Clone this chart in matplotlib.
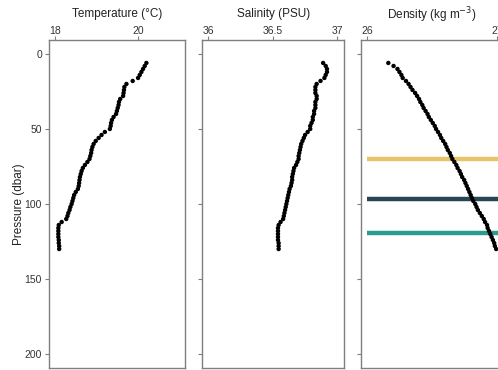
import matplotlib
matplotlib.use("Agg")
import matplotlib.pyplot as plt

plt.rcParams['font.family'] = ['Liberation Sans', 'DejaVu Sans']

pressure = [6, 8, 10, 12, 14, 16, 18, 20, 22, 24, 26, 28, 30, 32, 34, 36, 38, 40,
            42, 44, 46, 48, 50, 52, 54, 56, 58, 60, 62, 64, 66, 68, 70, 72, 74, 76,
            78, 80, 82, 84, 86, 88, 90, 92, 94, 96, 98, 100, 102, 104, 106, 108, 110,
            112, 114, 116, 118, 120, 122, 124, 126, 128, 130]

temperature = [20.20, 20.16, 20.12, 20.08, 20.04, 20.00, 19.87, 19.72, 19.67, 19.66,
               19.65, 19.64, 19.57, 19.54, 19.53, 19.51, 19.49, 19.47, 19.41, 19.37,
               19.35, 19.34, 19.32, 19.20, 19.12, 19.05, 18.98, 18.93, 18.90, 18.88,
               18.87, 18.85, 18.83, 18.78, 18.72, 18.67, 18.64, 18.62, 18.60, 18.59,
               18.58, 18.57, 18.55, 18.50, 18.46, 18.44, 18.42, 18.40, 18.37, 18.35,
               18.32, 18.30, 18.27, 18.16, 18.09, 18.08, 18.08, 18.08, 18.08, 18.09,
               18.09, 18.10, 18.10]

salinity = [36.89, 36.91, 36.92, 36.92, 36.91, 36.90, 36.87, 36.84, 36.83, 36.83,
            36.83, 36.84, 36.84, 36.83, 36.83, 36.83, 36.82, 36.82, 36.81, 36.81,
            36.80, 36.79, 36.79, 36.77, 36.75, 36.74, 36.73, 36.72, 36.715, 36.71,
            36.705, 36.70, 36.70, 36.69, 36.68, 36.665, 36.66, 36.655, 36.65, 36.65,
            36.645, 36.64, 36.63, 36.625, 36.62, 36.615, 36.61, 36.605, 36.60, 36.595,
            36.59, 36.585, 36.58, 36.56, 36.545, 36.54, 36.54, 36.54, 36.54, 36.54,
            36.545, 36.545, 36.545]

density = [26.165, 26.205, 26.235, 26.25, 26.265, 26.275, 26.30, 26.32, 26.335, 26.35,
           26.37, 26.385, 26.40, 26.41, 26.425, 26.435, 26.45, 26.465, 26.475, 26.49,
           26.505, 26.52, 26.53, 26.545, 26.56, 26.57, 26.585, 26.60, 26.61, 26.62,
           26.635, 26.645, 26.655, 26.67, 26.685, 26.695, 26.71, 26.72, 26.73, 26.745,
           26.755, 26.765, 26.775, 26.785, 26.795, 26.805, 26.815, 26.83, 26.84, 26.85,
           26.865, 26.88, 26.895, 26.905, 26.92, 26.925, 26.935, 26.945, 26.955, 26.965,
           26.975, 26.98, 26.99]

layer_depths = [70, 97, 119.5]
layer_colors = ['#E9C46A', '#264653', '#2A9D8F']

titles = ['Temperature (°C)', 'Salinity (PSU)', r'Density (kg m$^{-3}$)']
title_offsets = [0, 0, 3]
xticks_list = [[18, 20], [36, 36.5, 37], [26, 27]]
xticklabels_list = [['18', '20'], ['36', '36.5', '37'], ['26', '27']]
xlims = [(17.855, 21.13), (35.953, 37.052), (25.956, 27.04)]
yticks = [0, 50, 100, 150, 200]

W, H = 498, 370
fig = plt.figure(figsize=(W / 100, H / 100), dpi=100)

top_px, bot_px = 40, 368
boxes = [(49, 136), (202.3, 141.7), (361, 141.7)]
grey = '#7f7f7f'

series = [temperature, salinity, density]
for i, ((lpx, wpx), vals) in enumerate(zip(boxes, series)):
    ax = fig.add_axes([lpx / W, 1 - bot_px / H, wpx / W, (bot_px - top_px) / H])
    if i == 2:
        for d, c in zip(layer_depths, layer_colors):
            ax.plot([26, 27.1], [d, d], color=c, lw=3.2, solid_capstyle='butt', zorder=2)
    ax.scatter(vals, pressure, s=10, color='black', edgecolors='none', zorder=3)
    ax.set_xlim(*xlims[i])
    ax.set_ylim(209.3, -9.3)
    ax.xaxis.set_ticks_position('top')
    ax.xaxis.set_label_position('top')
    ax.set_xticks(xticks_list[i])
    ax.set_xticklabels(xticklabels_list[i])
    ax.set_yticks(yticks)
    if i == 0:
        ax.set_yticklabels([str(t) for t in yticks])
        ax.set_ylabel('Pressure (dbar)', fontsize=8.5, labelpad=-0.5, color='#222222')
    else:
        ax.set_yticklabels([])
    ax.tick_params(axis='both', length=3, width=0.8, color=grey, labelsize=7.5,
                   labelcolor='#333333', pad=2)
    ax.tick_params(axis='x', pad=0)
    for sp in ax.spines.values():
        sp.set_color(grey)
        sp.set_linewidth(1.0)
    fig.text((lpx + wpx / 2) / W, 1 - (16.5 + title_offsets[i]) / H, titles[i],
             fontsize=8.5, ha='center', va='baseline', color='#222222')

fig.savefig('out.png', dpi=100)
